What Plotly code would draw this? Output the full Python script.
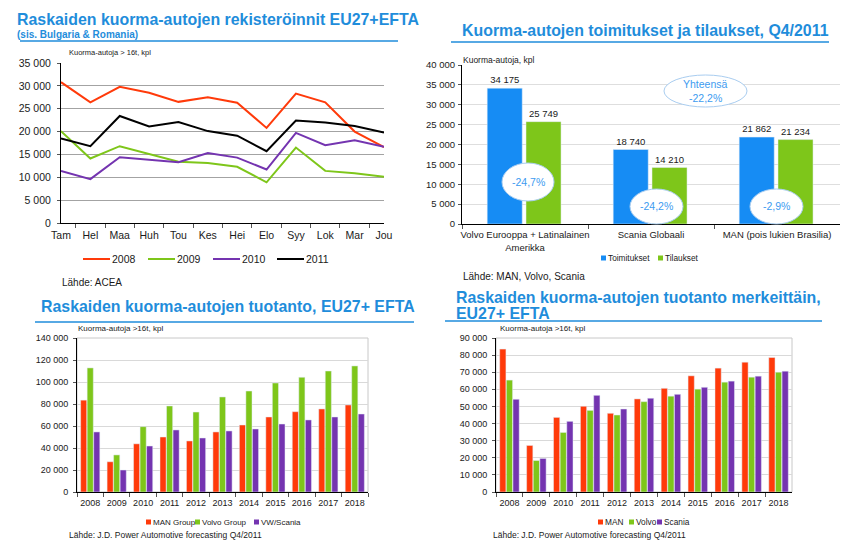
import plotly.graph_objects as go

# the page puts the figure 8px in from the top-left corner, so the figure is
# sized to fill the rest of the 850x541 window
OFF = 8
W, H = 850 - OFF, 541 - OFF

# --- data -------------------------------------------------------------
months = ["Tam", "Hel", "Maa", "Huh", "Tou", "Kes", "Hei", "Elo", "Syy", "Lok", "Mar", "Jou"]
reg_2008 = [30800, 26400, 29800, 28500, 26500, 27500, 26300, 20800, 28300, 26400, 20000, 16600]
reg_2009 = [20100, 14100, 16800, 15100, 13400, 13100, 12300, 8900, 16500, 11400, 10900, 10100]
reg_2010 = [11400, 9600, 14400, 13800, 13300, 15300, 14300, 11700, 19700, 17000, 18100, 16700]
reg_2011 = [18500, 16800, 23400, 21100, 22100, 20100, 19100, 15700, 22400, 22000, 21200, 19800]

q4_groups = ["Volvo Eurooppa + Latinalainen<br>Amerikka", "Scania Globaali", "MAN (pois lukien Brasilia)"]
toimitukset = [34175, 18740, 21862]
tilaukset = [25749, 14210, 21234]
muutos = ["-24,7%", "-24,2%", "-2,9%"]

years = [str(y) for y in range(2008, 2019)]
prod_man_group = [83500, 27500, 43800, 50000, 46400, 54600, 60900, 68200, 73000, 75500, 79100]
prod_volvo_group = [112800, 33700, 59400, 78200, 72700, 86400, 91800, 99100, 104300, 110000, 114600]
prod_vw_scania = [54600, 20000, 41800, 56400, 49100, 55500, 57300, 61800, 65500, 68200, 70900]

brand_man = [83500, 27200, 43600, 50100, 46000, 54400, 60600, 67900, 72400, 75900, 78600]
brand_volvo = [65400, 18400, 34800, 47700, 45000, 52800, 56000, 60100, 64200, 67100, 70000]
brand_scania = [54200, 19600, 41300, 56500, 48500, 54800, 57100, 61200, 64800, 67700, 70600]

# --- styles -----------------------------------------------------------
FONT = "Arial, Liberation Sans, sans-serif"
TXT = "#1a1a1a"
TITLE_BLUE = "#1f8ddb"
RED = "#ff3a0a"
GREEN = "#7ec61a"
PURPLE = "#7434b0"
BLUE = "#168cf4"
PCT_BLUE = "#3d9bf0"


def px(x):
    return (x - OFF) / W


def py(y):
    return 1 - (y - OFF) / H


fig = go.Figure()

# chart 1: registrations
reg_series = [("2008", reg_2008, RED), ("2009", reg_2009, GREEN),
              ("2010", reg_2010, PURPLE), ("2011", reg_2011, "#000000")]
for name, vals, col in reg_series:
    fig.add_trace(go.Scatter(x=months, y=vals, name=name, mode="lines",
                             line=dict(color=col, width=2), xaxis="x", yaxis="y",
                             hoverinfo="skip"))

# chart 2: deliveries and orders
q4_series = [("Toimitukset", toimitukset, BLUE, -0.30), ("Tilaukset", tilaukset, GREEN, 0.008)]
for name, vals, col, off in q4_series:
    fig.add_trace(go.Bar(x=q4_groups, y=vals, name=name, marker_color=col,
                         width=0.278, offset=off, xaxis="x2", yaxis="y2",
                         texttemplate="%{y:,}", textposition="outside", cliponaxis=False,
                         textfont=dict(size=9.5, color=TXT, family=FONT)))

# chart 3: production by group
group_series = [("MAN Group", prod_man_group, RED), ("Volvo Group", prod_volvo_group, GREEN),
                ("VW/Scania", prod_vw_scania, PURPLE)]
for name, vals, col in group_series:
    fig.add_trace(go.Bar(x=years, y=vals, name=name, marker_color=col, xaxis="x3", yaxis="y3"))

# chart 4: production by brand
brand_series = [("MAN", brand_man, RED), ("Volvo", brand_volvo, GREEN), ("Scania", brand_scania, PURPLE)]
for name, vals, col in brand_series:
    fig.add_trace(go.Bar(x=years, y=vals, name=name, marker_color=col, xaxis="x4", yaxis="y4"))


def xax(left, right, size):
    return dict(domain=[px(left), px(right)], type="category", showline=True,
                linecolor="#000000", linewidth=1, ticks="outside", tickson="boundaries",
                ticklen=4, tickcolor="#555555", showgrid=False, tickangle=0, automargin=False,
                ticklabelstandoff=2, tickfont=dict(size=size, color=TXT, family=FONT))


def yax(top, bottom, rng, dtick, size, gridcolor, anchor, standoff):
    return dict(domain=[py(bottom), py(top)], range=rng, dtick=dtick, tickformat=",",
                showline=True, linecolor="#000000", linewidth=1, ticks="outside",
                ticklen=3, tickcolor="#555555", gridcolor=gridcolor, gridwidth=1,
                zeroline=False, anchor=anchor, automargin=False, ticklabelstandoff=standoff,
                tickfont=dict(size=size, color=TXT, family=FONT))


ann = []
shapes = []


def text(x, y, s, size, color=TXT, xanchor="left", bold=False):
    ann.append(dict(x=px(x), y=py(y), xref="paper", yref="paper", showarrow=False,
                    text=f"<b>{s}</b>" if bold else s, xanchor=xanchor, yanchor="middle",
                    borderpad=0, font=dict(size=size, color=color, family=FONT)))


def rule(x0, x1, y):
    shapes.append(dict(type="line", xref="paper", yref="paper", x0=px(x0), x1=px(x1),
                       y0=py(y), y1=py(y), line=dict(color=TITLE_BLUE, width=1.5)))


def ellipse(x0, x1, y0, y1):
    shapes.append(dict(type="circle", xref="paper", yref="paper", x0=px(x0), x1=px(x1),
                       y0=py(y1), y1=py(y0), fillcolor="#ffffff",
                       line=dict(color="#a9cdf0", width=1)))


def legend_row(series, xs, y, size, kind):
    # hand-drawn legend: swatch at each x, label right after it
    for (name, _vals, col, *_rest), x in zip(series, xs):
        if kind == "line":
            shapes.append(dict(type="line", xref="paper", yref="paper", x0=px(x), x1=px(x + 27),
                               y0=py(y), y1=py(y), line=dict(color=col, width=2)))
            text(x + 28, y, name, size)
        else:
            shapes.append(dict(type="rect", xref="paper", yref="paper", x0=px(x), x1=px(x + 5),
                               y0=py(y + 2.5), y1=py(y - 2.5), fillcolor=col, line=dict(width=0)))
            text(x + 5.5, y, name, size)


# titles
text(16, 20, "Raskaiden kuorma-autojen rekisteröinnit EU27+EFTA", 15.9, TITLE_BLUE, bold=True)
text(16, 35, "(sis. Bulgaria &amp; Romania)", 10, TITLE_BLUE, bold=True)
rule(20, 398, 41)
text(645, 30, "Kuorma-autojen toimitukset ja tilaukset, Q4/2011", 15.9, TITLE_BLUE, "center", True)
rule(451, 829, 42)
text(40, 306, "Raskaiden kuorma-autojen tuotanto, EU27+ EFTA", 15.9, TITLE_BLUE, bold=True)
rule(35, 414, 322)
text(455, 297, "Raskaiden kuorma-autojen tuotanto merkeittäin,", 15.9, TITLE_BLUE, bold=True)
text(455, 313, "EU27+ EFTA", 15.9, TITLE_BLUE, bold=True)
rule(445, 822, 321)

# unit labels and sources
text(68, 52, "Kuorma-autoja &gt; 16t, kpl", 7.5)
text(61, 282, "Lähde: ACEA", 10)
text(462, 60, "Kuorma-autoja, kpl", 8.5)
text(462, 276, "Lähde: MAN, Volvo, Scania", 10)
text(77, 328, "Kuorma-autoja &gt;16t, kpl", 8)
text(68, 535, "Lähde: J.D. Power Automotive forecasting Q4/2011", 8.5)
text(499, 328, "Kuorma-autoja &gt;16t, kpl", 8)
text(492, 535, "Lähde: J.D. Power Automotive forecasting Q4/2011", 8.5)

# legends
legend_row(reg_series, [83, 148, 213, 277], 259, 10.5, "line")
legend_row(q4_series, [601, 658], 258, 8.3, "box")
legend_row(group_series, [146, 195, 254], 522, 8, "box")
legend_row(brand_series, [598, 629, 657], 522, 8.3, "box")

# percent change ellipses
ellipse(664, 747, 75, 107)
text(705, 84, "Yhteensä", 10.5, PCT_BLUE, "center")
text(705, 98, "-22,2%", 10.5, PCT_BLUE, "center")
for (x0, x1, y0, y1), s in zip([(502, 554, 163, 201), (630, 683, 189, 224), (750, 803, 189, 224)], muutos):
    ellipse(x0, x1, y0, y1)
    text((x0 + x1) / 2, (y0 + y1) / 2, s, 10.5, PCT_BLUE, "center")

# frames for lower charts
for xr, yr in [("x3 domain", "y3 domain"), ("x4 domain", "y4 domain")]:
    shapes.append(dict(type="rect", xref=xr, yref=yr, x0=0, x1=1, y0=0, y1=1,
                       line=dict(color="#c8c8c8", width=1), layer="below"))

fig.update_layout(
    width=W, height=H, autosize=False,
    margin=dict(l=0, r=0, t=0, b=0),
    paper_bgcolor="#ffffff", plot_bgcolor="rgba(0,0,0,0)",
    font=dict(family=FONT, color=TXT),
    separators=", ",
    showlegend=False,
    barmode="group", bargap=0.26, bargroupgap=0.06,
    xaxis=xax(61, 384, 10.5),
    yaxis=yax(63, 223, [0, 35000], 5000, 10.5, "#a3a3a3", "x", 4),
    xaxis2=dict(xax(462, 840, 9.5), anchor="y2"),
    yaxis2=yax(65, 224, [0, 40000], 5000, 9.5, "#dedede", "x2", 1),
    xaxis3=dict(xax(77, 368, 9), anchor="y3"),
    yaxis3=yax(338, 492, [0, 140000], 20000, 9, "#d9d9d9", "x3", 3),
    xaxis4=dict(xax(496, 792, 9), anchor="y4"),
    yaxis4=yax(338, 492, [0, 90000], 10000, 9, "#d9d9d9", "x4", 3),
    annotations=ann,
    shapes=shapes,
)

fig.write_html("out.html")
